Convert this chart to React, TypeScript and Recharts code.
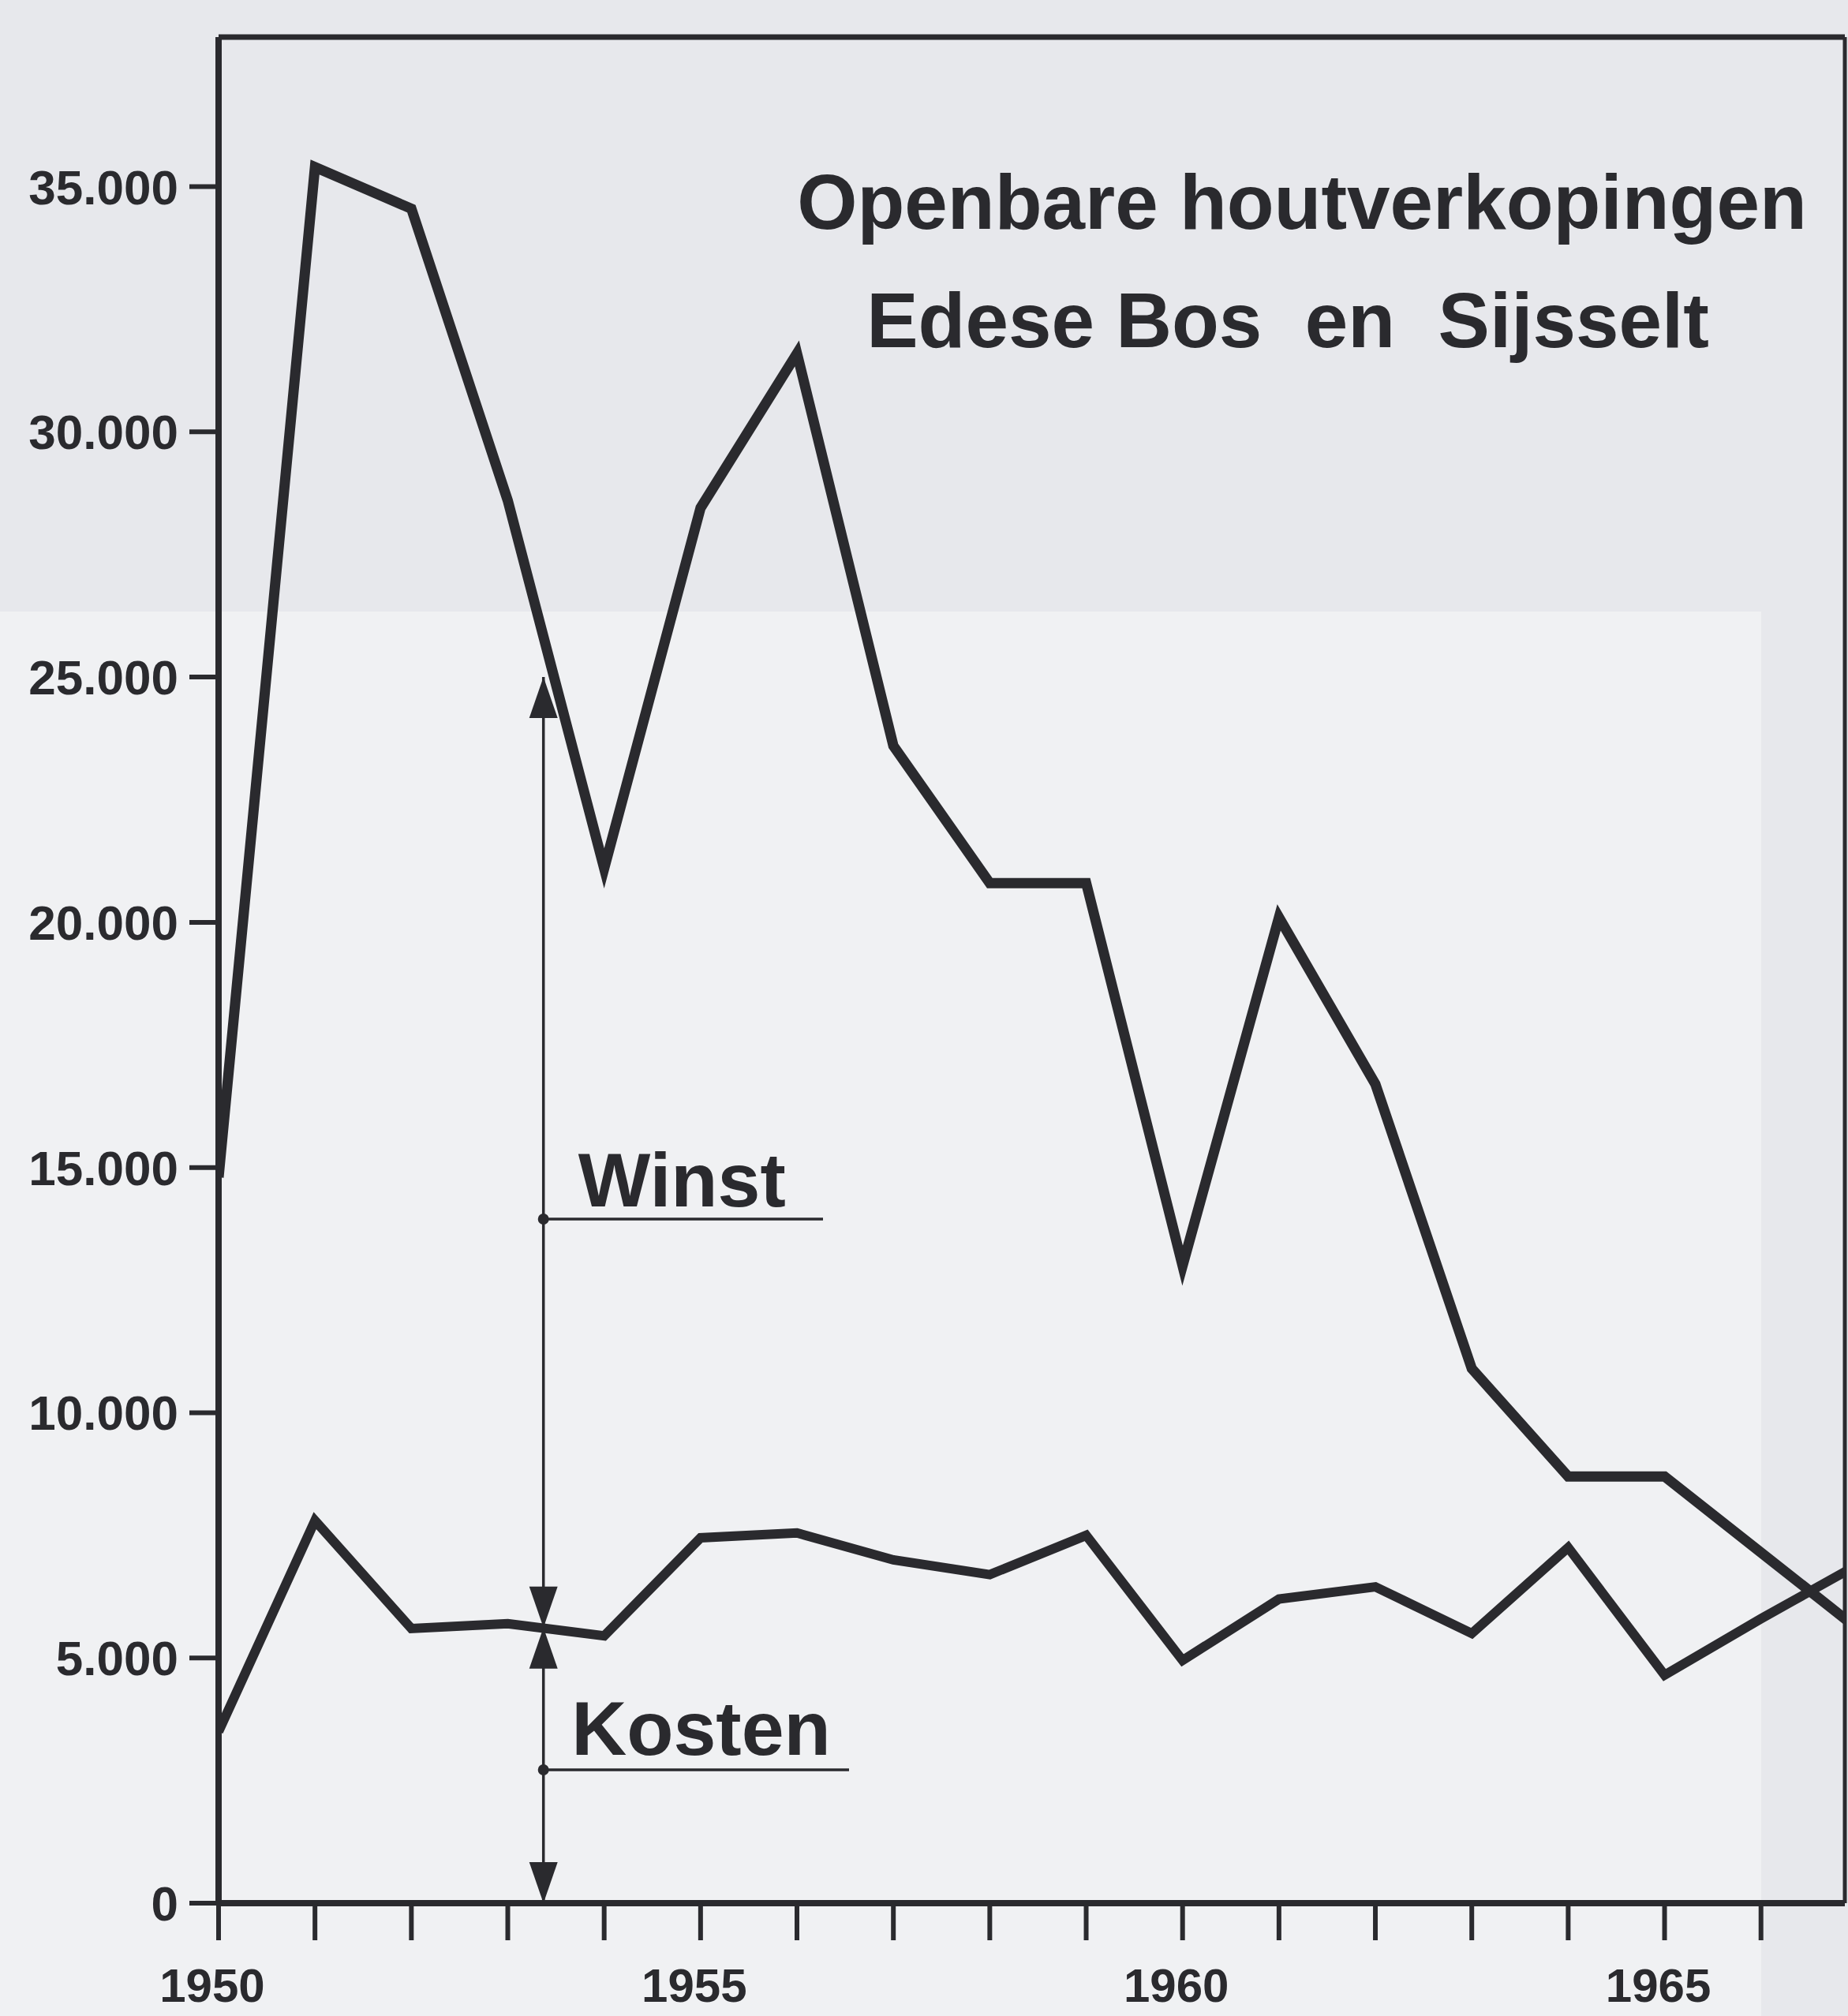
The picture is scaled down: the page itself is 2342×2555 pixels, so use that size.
import { LineChart, Line, XAxis, YAxis, ReferenceLine, ReferenceDot } from 'recharts';

// jaren en bedragen (gulden)
const years = [1950, 1951, 1952, 1953, 1954, 1955, 1956, 1957, 1958, 1959, 1960, 1961, 1962, 1963, 1964, 1965, 1966, 1967];
const opbrengst = [14800, 35400, 34550, 28600, 21100, 28450, 31600, 23600, 20800, 20800, 13000, 20100, 16700, 10900, 8700, 8700, 7150, 5600];
const kosten = [3500, 7800, 5600, 5700, 5450, 7450, 7550, 7000, 6700, 7500, 4950, 6200, 6450, 5500, 7250, 4650, 5800, 6900];

const yTicks = [0, 5000, 10000, 15000, 20000, 25000, 30000, 35000];
const xTicks = [1950, 1951, 1952, 1953, 1954, 1955, 1956, 1957, 1958, 1959, 1960, 1961, 1962, 1963, 1964, 1965, 1966];
const xLabels = [1950, 1955, 1960, 1965];

const X_MAX = 1966.87;
const Y_MAX = 38050;

// pijl "Winst / Kosten"
const ANN_X = 1953.37;
const ANN_TOP = 25000;
const ANN_MID = 5620;
const WINST_Y = 13950;
const KOSTEN_Y = 2720;

const INK = '#2a2a2e';
const FONT = '"Liberation Sans", Arial, sans-serif';

const data = years.map((jaar, i) => ({ jaar, opbrengst: opbrengst[i], kosten: kosten[i] }));

const formatY = (v: number) => (v === 0 ? '0' : `${v / 1000}.000`);

function XTick({ x, y, payload }: any) {
  if (!xLabels.includes(payload.value)) return null;
  return (
    <text x={x} y={y} dx={-8} dy={74} textAnchor="middle" fill={INK} fontFamily={FONT} fontWeight="bold" fontSize={60}>
      {payload.value}
    </text>
  );
}

const arrow = (dir: 'up' | 'down') => (props: any) => {
  const { cx, cy } = props;
  const w = 18;
  const h = dir === 'up' ? 52 : -52;
  return <polygon points={`${cx},${cy} ${cx - w},${cy + h} ${cx + w},${cy + h}`} fill={INK} />;
};

const label = (txt: string) => (props: any) => (
  <text x={props.cx} y={props.cy} fill={INK} fontFamily={FONT} fontWeight="bold" fontSize={97}>
    {txt}
  </text>
);

export default function App() {
  return (
    <div style={{ position: 'relative', width: 2342, height: 2555, background: '#e7e8ec', overflow: 'hidden' }}>
      <style>{'body{margin:0}'}</style>
      <div style={{ position: 'absolute', left: 0, top: 775, width: 2232, height: 1780, background: '#f0f1f3' }} />
      <div
        style={{
          position: 'absolute',
          left: 1000,
          width: 1300,
          top: 207,
          textAlign: 'center',
          fontFamily: FONT,
          fontWeight: 'bold',
          fontSize: 98,
          color: INK,
          whiteSpace: 'pre',
          zIndex: 2,
        }}
      >
        <div style={{ lineHeight: '98px', height: 150 }}>Openbare houtverkopingen</div>
        <div style={{ lineHeight: '98px', marginLeft: -36 }}>{'Edese Bos  en  Sijsselt'}</div>
      </div>
      <div style={{ position: 'absolute', left: 0, top: 0 }}>
        <LineChart width={2342} height={2555} data={data} margin={{ top: 47, right: 4, bottom: 0, left: 0 }}>
          <XAxis
            dataKey="jaar"
            type="number"
            domain={[1950, X_MAX]}
            allowDataOverflow
            ticks={xTicks}
            interval={0}
            height={143}
            tickSize={47}
            tickMargin={4}
            tick={<XTick />}
            axisLine={{ stroke: INK, strokeWidth: 8 }}
            tickLine={{ stroke: INK, strokeWidth: 6 }}
          />
          <YAxis
            type="number"
            domain={[0, Y_MAX]}
            allowDataOverflow
            ticks={yTicks}
            interval={0}
            width={277}
            tickSize={37}
            tickMargin={14}
            tickFormatter={formatY}
            tick={{ fill: INK, fontFamily: FONT, fontWeight: 'bold', fontSize: 62 }}
            axisLine={{ stroke: INK, strokeWidth: 8 }}
            tickLine={{ stroke: INK, strokeWidth: 6 }}
          />
          <ReferenceLine y={Y_MAX} stroke={INK} strokeWidth={7} />
          <ReferenceLine x={X_MAX} stroke={INK} strokeWidth={5} />

          <ReferenceLine segment={[{ x: ANN_X, y: 0 }, { x: ANN_X, y: ANN_TOP }]} stroke={INK} strokeWidth={3.5} />
          <ReferenceLine segment={[{ x: ANN_X, y: WINST_Y }, { x: 1956.27, y: WINST_Y }]} stroke={INK} strokeWidth={3.5} />
          <ReferenceLine segment={[{ x: ANN_X, y: KOSTEN_Y }, { x: 1956.54, y: KOSTEN_Y }]} stroke={INK} strokeWidth={3.5} />
          <ReferenceDot x={ANN_X} y={WINST_Y} r={7} fill={INK} stroke="none" />
          <ReferenceDot x={ANN_X} y={KOSTEN_Y} r={7} fill={INK} stroke="none" />
          <ReferenceDot x={ANN_X} y={ANN_TOP} shape={arrow('up')} />
          <ReferenceDot x={ANN_X} y={ANN_MID} shape={arrow('down')} />
          <ReferenceDot x={ANN_X} y={ANN_MID} shape={arrow('up')} />
          <ReferenceDot x={ANN_X} y={0} shape={arrow('down')} />
          <ReferenceDot x={1953.73} y={14200} shape={label('Winst')} />
          <ReferenceDot x={1953.66} y={3020} shape={label('Kosten')} />

          <Line
            type="linear"
            dataKey="opbrengst"
            stroke={INK}
            strokeWidth={13}
            strokeLinejoin="miter"
            dot={false}
            isAnimationActive={false}
          />
          <Line
            type="linear"
            dataKey="kosten"
            stroke={INK}
            strokeWidth={12}
            strokeLinejoin="miter"
            dot={false}
            isAnimationActive={false}
          />
        </LineChart>
      </div>
    </div>
  );
}
